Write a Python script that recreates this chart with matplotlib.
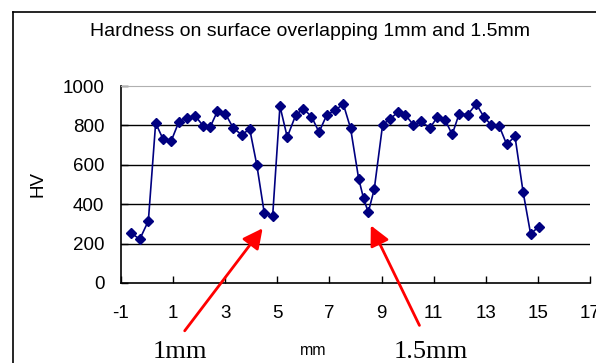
import matplotlib.pyplot as plt
from matplotlib.lines import Line2D

# hardness profile
pos_mm = [-0.60, -0.28, 0.05, 0.33, 0.62, 0.92, 1.22, 1.52, 1.84, 2.15, 2.42, 2.70,
          3.01, 3.31, 3.63, 3.94, 4.21, 4.50, 4.82, 5.10, 5.38, 5.71, 6.00, 6.31,
          6.60, 6.90, 7.22, 7.53, 7.81, 8.12, 8.31, 8.49, 8.72, 9.04, 9.33, 9.63,
          9.91, 10.22, 10.53, 10.85, 11.14, 11.44, 11.71, 11.98, 12.30, 12.63,
          12.92, 13.20, 13.52, 13.80, 14.12, 14.43, 14.72, 15.03]
hv = [253, 222, 315, 812, 729, 719, 818, 837, 850, 798, 791, 872,
      859, 786, 753, 781, 601, 354, 340, 898, 741, 854, 884, 845,
      766, 854, 877, 909, 786, 530, 429, 359, 477, 803, 834, 867,
      854, 803, 820, 786, 842, 827, 754, 860, 854, 909,
      845, 803, 795, 704, 744, 463, 249, 286]
xticks = [-1, 1, 3, 5, 7, 9, 11, 13, 15, 17]
yticks = [0, 200, 400, 600, 800, 1000]
title = "Hardness on surface overlapping 1mm and 1.5mm"

plt.rcParams['font.family'] = ['Liberation Sans', 'DejaVu Sans']
plt.rcParams['axes.unicode_minus'] = False

fig = plt.figure(figsize=(5.96, 3.63), dpi=100)
ax = fig.add_axes([0.203, 0.2204, 0.787, 0.5426])

ax.plot(pos_mm, hv, color='#000080', lw=1.2, marker='D', markersize=5.5,
        markerfacecolor='#000080', markeredgecolor='#000080', zorder=3)

ax.set_xlim(-1, 17)
ax.set_ylim(0, 1000)
ax.set_xticks(xticks)
ax.set_yticks(yticks)
ax.tick_params(direction='in', length=5, width=1, labelsize=13.5, color='black')
ax.tick_params(axis='x', pad=16)
ax.tick_params(axis='y', pad=12)
for v in yticks[1:-1]:
    ax.axhline(v, color='black', lw=1.0, zorder=1)
ax.spines['right'].set_visible(False)
ax.spines['top'].set_color('#b0b0b0')
ax.spines['left'].set_linewidth(1.2)
ax.spines['bottom'].set_linewidth(1.2)

fig.text(0.52, 0.912, title, ha='center', va='center', fontsize=14)
fig.text(0.064, 0.493, 'HV', ha='center', va='center', rotation=90, fontsize=13.5)
fig.text(0.525, 0.035, 'mm', ha='center', va='center', fontsize=11.5)
fig.text(0.302, 0.03, '1mm', ha='center', va='center', fontsize=19,
         family='Liberation Serif')
fig.text(0.722, 0.03, '1.5mm', ha='center', va='center', fontsize=19,
         family='Liberation Serif')

# red arrows pointing at the two dips
arrow = dict(arrowstyle='-|>,head_length=1.2,head_width=0.6', color='red', lw=2)
ax.annotate('', xy=(4.5, 289), xytext=(1.38, -254), arrowprops=arrow,
            annotation_clip=False)
ax.annotate('', xy=(8.54, 305), xytext=(10.5, -228), arrowprops=arrow,
            annotation_clip=False)

# chart frame, cut off by the picture edges
fig.add_artist(Line2D([13 / 596, 13 / 596], [0, 1 - 12 / 363], color='black', lw=1.2))
fig.add_artist(Line2D([13 / 596, 1], [1 - 12 / 363, 1 - 12 / 363], color='black', lw=1.2))

fig.savefig('out.png', dpi=100)
